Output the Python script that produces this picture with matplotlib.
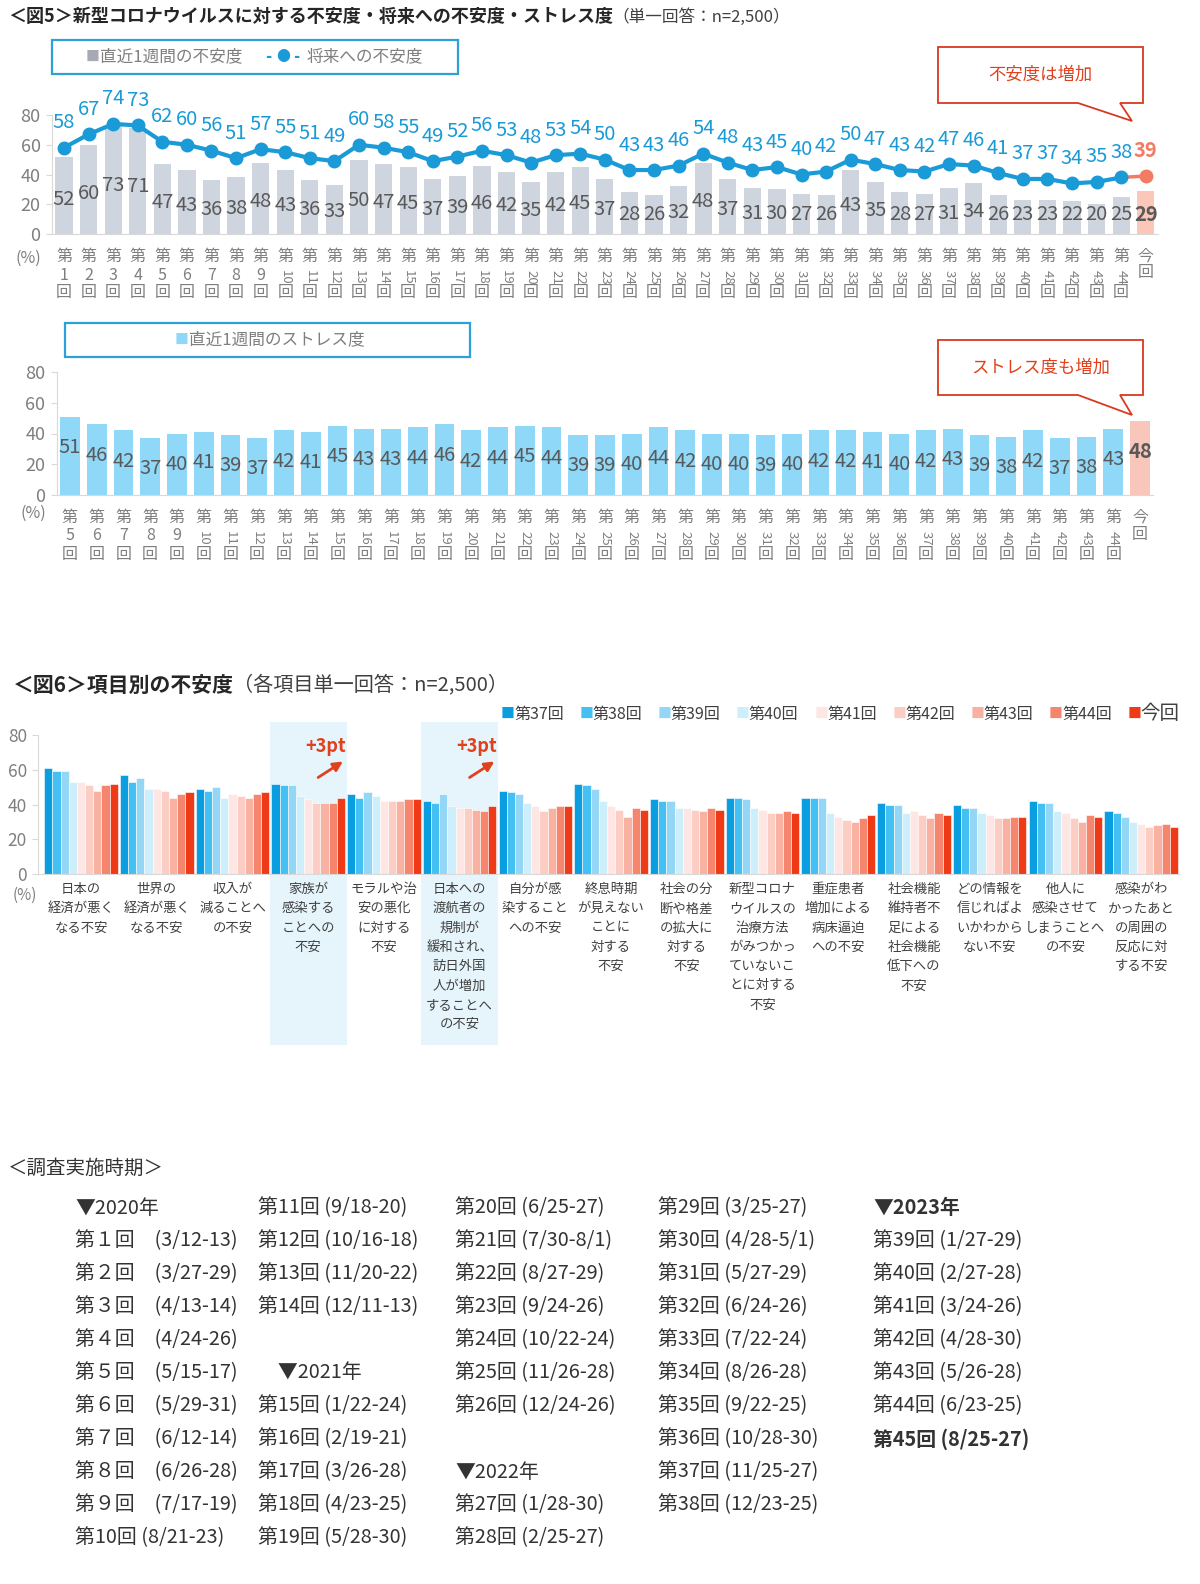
import matplotlib
matplotlib.use('Agg')
import matplotlib.pyplot as plt
import matplotlib.transforms as mtransforms
from matplotlib.patches import Rectangle, Polygon

plt.rcParams['font.family'] = ['Noto Sans CJK JP', 'DejaVu Sans']

W, H = 1200, 1584

# ---------------- data: fig5 ----------------
rounds_top = [str(i) for i in range(1, 45)] + ['今回']
anxiety_week = [52, 60, 73, 71, 47, 43, 36, 38, 48, 43, 36, 33, 50, 47, 45, 37, 39, 46, 42, 35,
                42, 45, 37, 28, 26, 32, 48, 37, 31, 30, 27, 26, 43, 35, 28, 27, 31, 34, 26, 23,
                23, 22, 20, 25, 29]
anxiety_future = [58, 67, 74, 73, 62, 60, 56, 51, 57, 55, 51, 49, 60, 58, 55, 49, 52, 56, 53, 48,
                  53, 54, 50, 43, 43, 46, 54, 48, 43, 45, 40, 42, 50, 47, 43, 42, 47, 46, 41, 37,
                  37, 34, 35, 38, 39]
rounds_stress = [str(i) for i in range(5, 45)] + ['今回']
stress_week = [51, 46, 42, 37, 40, 41, 39, 37, 42, 41, 45, 43, 43, 44, 46, 42, 44, 45, 44, 39,
               39, 40, 44, 42, 40, 40, 39, 40, 42, 42, 41, 40, 42, 43, 39, 38, 42, 37, 38, 43, 48]

# ---------------- data: fig6 ----------------
items = ['日本の\n経済が悪く\nなる不安', '世界の\n経済が悪く\nなる不安', '収入が\n減ることへ\nの不安',
         '家族が\n感染する\nことへの\n不安', 'モラルや治\n安の悪化\nに対する\n不安',
         '日本への\n渡航者の\n規制が\n緩和され、\n訪日外国\n人が増加\nすることへ\nの不安',
         '自分が感\n染すること\nへの不安', '終息時期\nが見えない\nことに\n対する\n不安',
         '社会の分\n断や格差\nの拡大に\n対する\n不安',
         '新型コロナ\nウイルスの\n治療方法\nがみつかっ\nていないこ\nとに対する\n不安',
         '重症患者\n増加による\n病床逼迫\nへの不安', '社会機能\n維持者不\n足による\n社会機能\n低下への\n不安',
         'どの情報を\n信じればよ\nいかわから\nない不安', '他人に\n感染させて\nしまうことへ\nの不安',
         '感染がわ\nかったあと\nの周囲の\n反応に対\nする不安']
series6 = ['第37回', '第38回', '第39回', '第40回', '第41回', '第42回', '第43回', '第44回', '今回']
r37 = [61, 57, 49, 52, 46, 42, 48, 52, 43, 44, 44, 41, 40, 42, 36]
r38 = [59, 53, 48, 51, 44, 41, 47, 51, 42, 44, 44, 40, 38, 41, 35]
r39 = [59, 55, 50, 51, 47, 46, 46, 49, 42, 43, 44, 40, 38, 41, 33]
r40 = [53, 49, 44, 45, 45, 39, 41, 42, 38, 38, 35, 35, 35, 36, 30]
r41 = [53, 49, 46, 43, 42, 38, 39, 39, 38, 37, 33, 36, 34, 35, 29]
r42 = [51, 48, 45, 41, 42, 38, 36, 37, 37, 35, 31, 34, 32, 32, 27]
r43 = [48, 44, 44, 41, 42, 37, 38, 33, 36, 35, 30, 32, 32, 30, 28]
r44 = [51, 46, 46, 41, 43, 36, 39, 38, 38, 36, 32, 35, 33, 34, 29]
r45 = [52, 47, 47, 44, 43, 39, 39, 37, 37, 35, 34, 34, 33, 33, 27]
colors6 = ['#0a9ddf', '#45c0f2', '#94d6f6', '#cdeefb', '#fde6e3', '#fccdc3', '#f9b1a2', '#f6856e', '#ee3a17']
highlight_items = [3, 5]

# ---------------- data: schedule ----------------
sched_col1 = ['▼2020年', '第１回　(3/12-13)', '第２回　(3/27-29)', '第３回　(4/13-14)', '第４回　(4/24-26)',
              '第５回　(5/15-17)', '第６回　(5/29-31)', '第７回　(6/12-14)', '第８回　(6/26-28)',
              '第９回　(7/17-19)', '第10回 (8/21-23)']
sched_col2 = ['第11回 (9/18-20)', '第12回 (10/16-18)', '第13回 (11/20-22)', '第14回 (12/11-13)', '',
              '　▼2021年', '第15回 (1/22-24)', '第16回 (2/19-21)', '第17回 (3/26-28)', '第18回 (4/23-25)',
              '第19回 (5/28-30)']
sched_col3 = ['第20回 (6/25-27)', '第21回 (7/30-8/1)', '第22回 (8/27-29)', '第23回 (9/24-26)',
              '第24回 (10/22-24)', '第25回 (11/26-28)', '第26回 (12/24-26)', '', '▼2022年',
              '第27回 (1/28-30)', '第28回 (2/25-27)']
sched_col4 = ['第29回 (3/25-27)', '第30回 (4/28-5/1)', '第31回 (5/27-29)', '第32回 (6/24-26)',
              '第33回 (7/22-24)', '第34回 (8/26-28)', '第35回 (9/22-25)', '第36回 (10/28-30)',
              '第37回 (11/25-27)', '第38回 (12/23-25)']
sched_col5 = ['▼2023年', '第39回 (1/27-29)', '第40回 (2/27-28)', '第41回 (3/24-26)', '第42回 (4/28-30)',
              '第43回 (5/26-28)', '第44回 (6/23-25)', '第45回 (8/25-27)']
sched_bold = {'▼2023年', '第45回 (8/25-27)'}

GRAY_TXT = '#7f7f7f'
DARK = '#404040'
BLUE = '#1a9ad6'
SALMON = '#f27c63'
RED = '#e0401c'

fig = plt.figure(figsize=(W / 100, H / 100), dpi=100)


def fx(x):
    return x / W


def fy(y):
    return 1 - y / H


def ftext(x, y, s, **kw):
    return fig.text(fx(x), fy(y), s, **kw)


def add_axes_px(left, right, top, bottom):
    return fig.add_axes([fx(left), fy(bottom), (right - left) / W, (bottom - top) / H])


def style_axes(ax, fs):
    for s in ['top', 'right']:
        ax.spines[s].set_visible(False)
    ax.spines['left'].set_color('#d9d9d9')
    ax.spines['bottom'].set_color('#d9d9d9')
    ax.set_ylim(0, 80)
    ax.set_yticks([0, 20, 40, 60, 80])
    ax.tick_params(axis='y', colors='#d9d9d9', labelcolor=GRAY_TXT, labelsize=fs, length=4, pad=4)
    ax.set_xticks([])
    ax.patch.set_alpha(0)


def round_ticks(ax, labels, ys, ys_now):
    tr = mtransforms.blended_transform_factory(ax.transData, fig.transFigure)
    kw = dict(transform=tr, ha='center', va='center', color=GRAY_TXT)
    for i, lab in enumerate(labels):
        if lab == '今回':
            ax.text(i, fy(ys_now[0]), '今', fontsize=11.5, **kw)
            ax.text(i, fy(ys_now[1]), '回', fontsize=11.5, **kw)
        else:
            ax.text(i, fy(ys[0]), '第', fontsize=11.5, **kw)
            if len(lab) > 1:
                ax.text(i, fy(ys[1] + 2), lab, rotation=-90, fontsize=9.5, **kw)
            else:
                ax.text(i, fy(ys[1]), lab, fontsize=11.5, **kw)
            ax.text(i, fy(ys[2]), '回', fontsize=11.5, **kw)


def callout(x0, x1, y0, y1, tail, text):
    pts = [(x0, y0), (x1, y0), (x1, y1), (tail[2], y1), (tail[1][0], tail[1][1]), (tail[0], y1), (x0, y1)]
    poly = Polygon([(fx(a), fy(b)) for a, b in pts], closed=True, transform=fig.transFigure,
                   facecolor='white', edgecolor='#d83a1e', lw=1.3)
    fig.patches.append(poly)
    ftext((x0 + x1) / 2, (y0 + y1) / 2, text, ha='center', va='center', fontsize=12.5, color=RED)


# ================= Fig5 title =================
ftext(8, 17, '＜図5＞新型コロナウイルスに対する不安度・将来への不安度・ストレス度', fontsize=13,
      fontweight='bold', color='#262626', va='center')
ftext(612, 17, '（単一回答：n=2,500）', fontsize=12, color='#404040', va='center')

# ================= Fig5 top chart =================
ax1 = add_axes_px(51.7, 1158, 115, 234)
style_axes(ax1, 13)
n1 = len(rounds_top)
ax1.set_xlim(-0.5, n1 - 0.5)
x1 = list(range(n1))
bar_cols = ['#cfd5de'] * (n1 - 1) + ['#fbc7b9']
ax1.bar(x1, anxiety_week, width=0.7, color=bar_cols, zorder=1)
ax1.plot(x1[:-1], anxiety_future[:-1], color=BLUE, lw=3, marker='o', ms=9, zorder=3)
ax1.plot(x1[-2:], anxiety_future[-2:], color=SALMON, lw=2.5, zorder=2)
ax1.plot(x1[-1], anxiety_future[-1], 'o', color=SALMON, ms=9, zorder=3)
for i, v in enumerate(anxiety_week):
    last = i == n1 - 1
    ax1.text(i, max(0.45 * v, 13), str(v), ha='center', va='center', fontsize=14.5,
             color='#595959', fontweight='bold' if last else 'normal', zorder=4)
for i, v in enumerate(anxiety_future):
    last = i == n1 - 1
    ax1.annotate(str(v), (i, v), xytext=(0, 18), textcoords='offset points', ha='center', va='center',
                 fontsize=14.5, color=SALMON if last else BLUE, fontweight='bold' if last else 'normal',
                 annotation_clip=False, zorder=4)
round_ticks(ax1, rounds_top, (256, 275, 293), (256, 273))
ftext(28, 258, '(%)', ha='center', va='center', fontsize=11.5, color=GRAY_TXT)

# legend box top
fig.patches.append(Rectangle((fx(52), fy(74)), (458 - 52) / W, 34 / H, transform=fig.transFigure,
                             facecolor='white', edgecolor='#2d9fd9', lw=1.6))
ftext(86, 57, '■', fontsize=10, color='#a6aab2', va='center')
ftext(100, 57, '直近1週間の不安度', fontsize=12, color=GRAY_TXT, va='center')
ftext(265, 57, '-', fontsize=12, color=BLUE, va='center', fontweight='bold')
ftext(283, 57, '●', fontsize=10, color=BLUE, va='center', ha='center')
ftext(293, 57, '-', fontsize=12, color=BLUE, va='center', fontweight='bold')
ftext(307, 57, '将来への不安度', fontsize=12, color=GRAY_TXT, va='center')

callout(938, 1143, 47, 103, (1078, (1132, 121), 1120), '不安度は増加')

# ================= Fig5 stress chart =================
ax2 = add_axes_px(56.6, 1153.4, 372, 495)
style_axes(ax2, 13)
n2 = len(rounds_stress)
ax2.set_xlim(-0.5, n2 - 0.5)
x2 = list(range(n2))
ax2.bar(x2, stress_week, width=0.74, color=['#8fd8f8'] * (n2 - 1) + ['#f9c6bb'], zorder=1)
for i, v in enumerate(stress_week):
    last = i == n2 - 1
    ax2.text(i, v - 20, str(v), ha='center', va='center', fontsize=14.5, color='#595959',
             fontweight='bold' if last else 'normal', zorder=4)
round_ticks(ax2, rounds_stress, (517, 536, 554), (517, 534))
ftext(33, 513, '(%)', ha='center', va='center', fontsize=11.5, color=GRAY_TXT)

fig.patches.append(Rectangle((fx(65), fy(357)), (470 - 65) / W, 34 / H, transform=fig.transFigure,
                             facecolor='white', edgecolor='#2d9fd9', lw=1.6))
ftext(175, 340, '■', fontsize=10, color='#8fd8f8', va='center')
ftext(189, 340, '直近1週間のストレス度', fontsize=12, color=GRAY_TXT, va='center')

callout(938, 1143, 340, 395, (1078, (1132, 415), 1120), 'ストレス度も増加')

# ================= Fig6 =================
ftext(13, 685, '＜図6＞項目別の不安度', fontsize=15, fontweight='bold', color='#262626', va='center')
ftext(233, 685, '（各項目単一回答：n=2,500）', fontsize=14.5, color='#404040', va='center')

ax3 = add_axes_px(38, 1179, 735, 874)
style_axes(ax3, 12.5)
ni = len(items)
ax3.set_xlim(-0.568, ni - 0.5)
tr3 = mtransforms.blended_transform_factory(ax3.transData, fig.transFigure)

for k in highlight_items:
    ax3.add_patch(Rectangle((k - 0.51, fy(1045)), 1.02, (1045 - 722) / H, transform=tr3,
                            facecolor='#e6f5fc', edgecolor='none', zorder=0, clip_on=False))
    ax3.text(k + 0.23, fy(746), '+3pt', transform=tr3, ha='center', va='center', fontsize=13,
             fontweight='bold', color=RED, zorder=5)
    ax3.annotate('', xy=(k + 0.49, fy(760)), xytext=(k + 0.1, fy(779)), xycoords=tr3, textcoords=tr3,
                 arrowprops=dict(arrowstyle='-|>', color=RED, lw=2, mutation_scale=14), zorder=5)

series_vals = [r37, r38, r39, r40, r41, r42, r43, r44, r45]
bw = 0.108
for j, vals in enumerate(series_vals):
    xs = [i + (j - 4) * bw for i in range(ni)]
    ax3.bar(xs, vals, width=bw, color=colors6[j], edgecolor='white', linewidth=0.4, zorder=2)

for i, lab in enumerate(items):
    ax3.text(i, fy(882), lab, transform=tr3, ha='center', va='top', fontsize=9.6, color=DARK,
             linespacing=1.48)
ftext(25, 895, '(%)', ha='center', va='center', fontsize=11, color=GRAY_TXT)

# legend fig6
for j, name in enumerate(series6):
    sx = 501 + 78.3 * j
    ftext(sx, 714, '■', fontsize=10, color=colors6[j], va='center')
    ftext(sx + 13, 714, name, fontsize=14 if name == '今回' else 11.5, color=DARK, va='center')

# ================= schedule =================
ftext(8, 1168, '＜調査実施時期＞', fontsize=14, color='#333333', va='center')
sched_x = [75, 258, 455, 658, 873]
for cx, col in zip(sched_x, [sched_col1, sched_col2, sched_col3, sched_col4, sched_col5]):
    for r, entry in enumerate(col):
        if not entry:
            continue
        ftext(cx, 1208 + 33 * r, entry, fontsize=14.3, color='#333333', va='center',
              fontweight='bold' if entry in sched_bold else 'normal')

fig.savefig('out.png', dpi=100)
